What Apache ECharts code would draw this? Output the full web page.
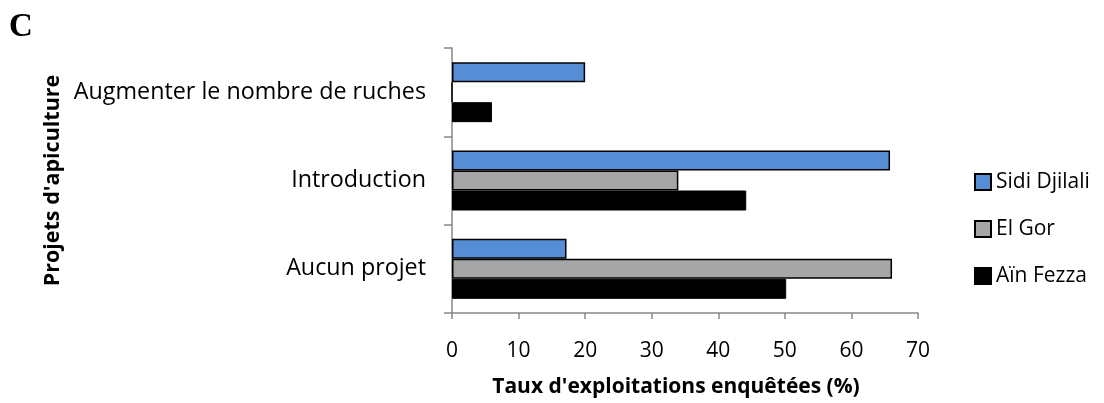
<!DOCTYPE html>
<html><head><meta charset="utf-8">
<script src="https://cdn.jsdelivr.net/npm/echarts@6/dist/echarts.min.js"></script>
<style>html,body{margin:0;padding:0;background:#fff}#c{width:1104px;height:403px}</style>
</head><body><div id="c"></div>
<script>
const categories = ['Aucun projet', 'Introduction', 'Augmenter le nombre de ruches'];
const sidiDjilali = [17.2, 65.8, 20];
const elGor = [66.1, 34, 0];
const ainFezza = [50.2, 44.2, 6];
const xTicks = [0, 10, 20, 30, 40, 50, 60, 70];
const legendNames = ['Sidi Djilali', 'El Gor', 'Aïn Fezza'];

const FONT = '"Open Sans", sans-serif';
const chart = echarts.init(document.getElementById('c'));
chart.setOption({
  animation: false,
  title: { text: 'C', left: 4, top: 6, textStyle: { fontFamily: '"Liberation Serif", serif', fontWeight: 'bold', fontSize: 33, color: '#000' } },
  grid: { left: 452, right: 186, top: 48, bottom: 89 },
  legend: {
    orient: 'vertical', left: 974, top: 170, padding: 0,
    data: legendNames, icon: 'rect',
    itemWidth: 16, itemHeight: 16, itemGap: 23,
    textStyle: { fontFamily: FONT, fontSize: 21, color: '#000', lineHeight: 24 }
  },
  xAxis: {
    type: 'value', min: xTicks[0], max: xTicks[xTicks.length-1], interval: 10,
    splitLine: { show: false },
    axisLine: { show: true, lineStyle: { color: '#868686', width: 1.5 } },
    axisTick: { show: true, length: 6, lineStyle: { color: '#868686', width: 1.5 } },
    axisLabel: { margin: 28, fontFamily: FONT, fontSize: 21, color: '#000' },
    name: "Taux d'exploitations enquêtées (%)", nameLocation: 'middle', nameGap: 64,
    nameTextStyle: { fontFamily: FONT, fontWeight: 'bold', fontSize: 21, color: '#000', padding: [0, 18, 0, 0] }
  },
  yAxis: {
    type: 'category', data: categories,
    axisLine: { show: true, lineStyle: { color: '#868686', width: 1.5 } },
    axisTick: { show: true, length: 8, lineStyle: { color: '#868686', width: 1.5 } },
    axisLabel: { margin: 26, fontFamily: FONT, fontSize: 23.3, color: '#000' },
    name: "Projets d'apiculture", nameLocation: 'middle', nameGap: 388, nameRotate: 90,
    nameTextStyle: { fontFamily: FONT, fontWeight: 'bold', fontSize: 21.5, color: '#000' }
  },
  series: [
    { name: 'Sidi Djilali', type: 'bar', data: sidiDjilali, barWidth: 20, barGap: '0%',
      itemStyle: { color: '#558ED5', borderColor: '#000', borderWidth: 1.5 } },
    { name: 'El Gor', type: 'bar', data: elGor, barWidth: 20, barGap: '0%',
      itemStyle: { color: '#A6A6A6', borderColor: '#000', borderWidth: 1.5 } },
    { name: 'Aïn Fezza', type: 'bar', data: ainFezza, barWidth: 20, barGap: '0%',
      itemStyle: { color: '#000000', borderColor: '#000', borderWidth: 1 } }
  ]
});
</script></body></html>
